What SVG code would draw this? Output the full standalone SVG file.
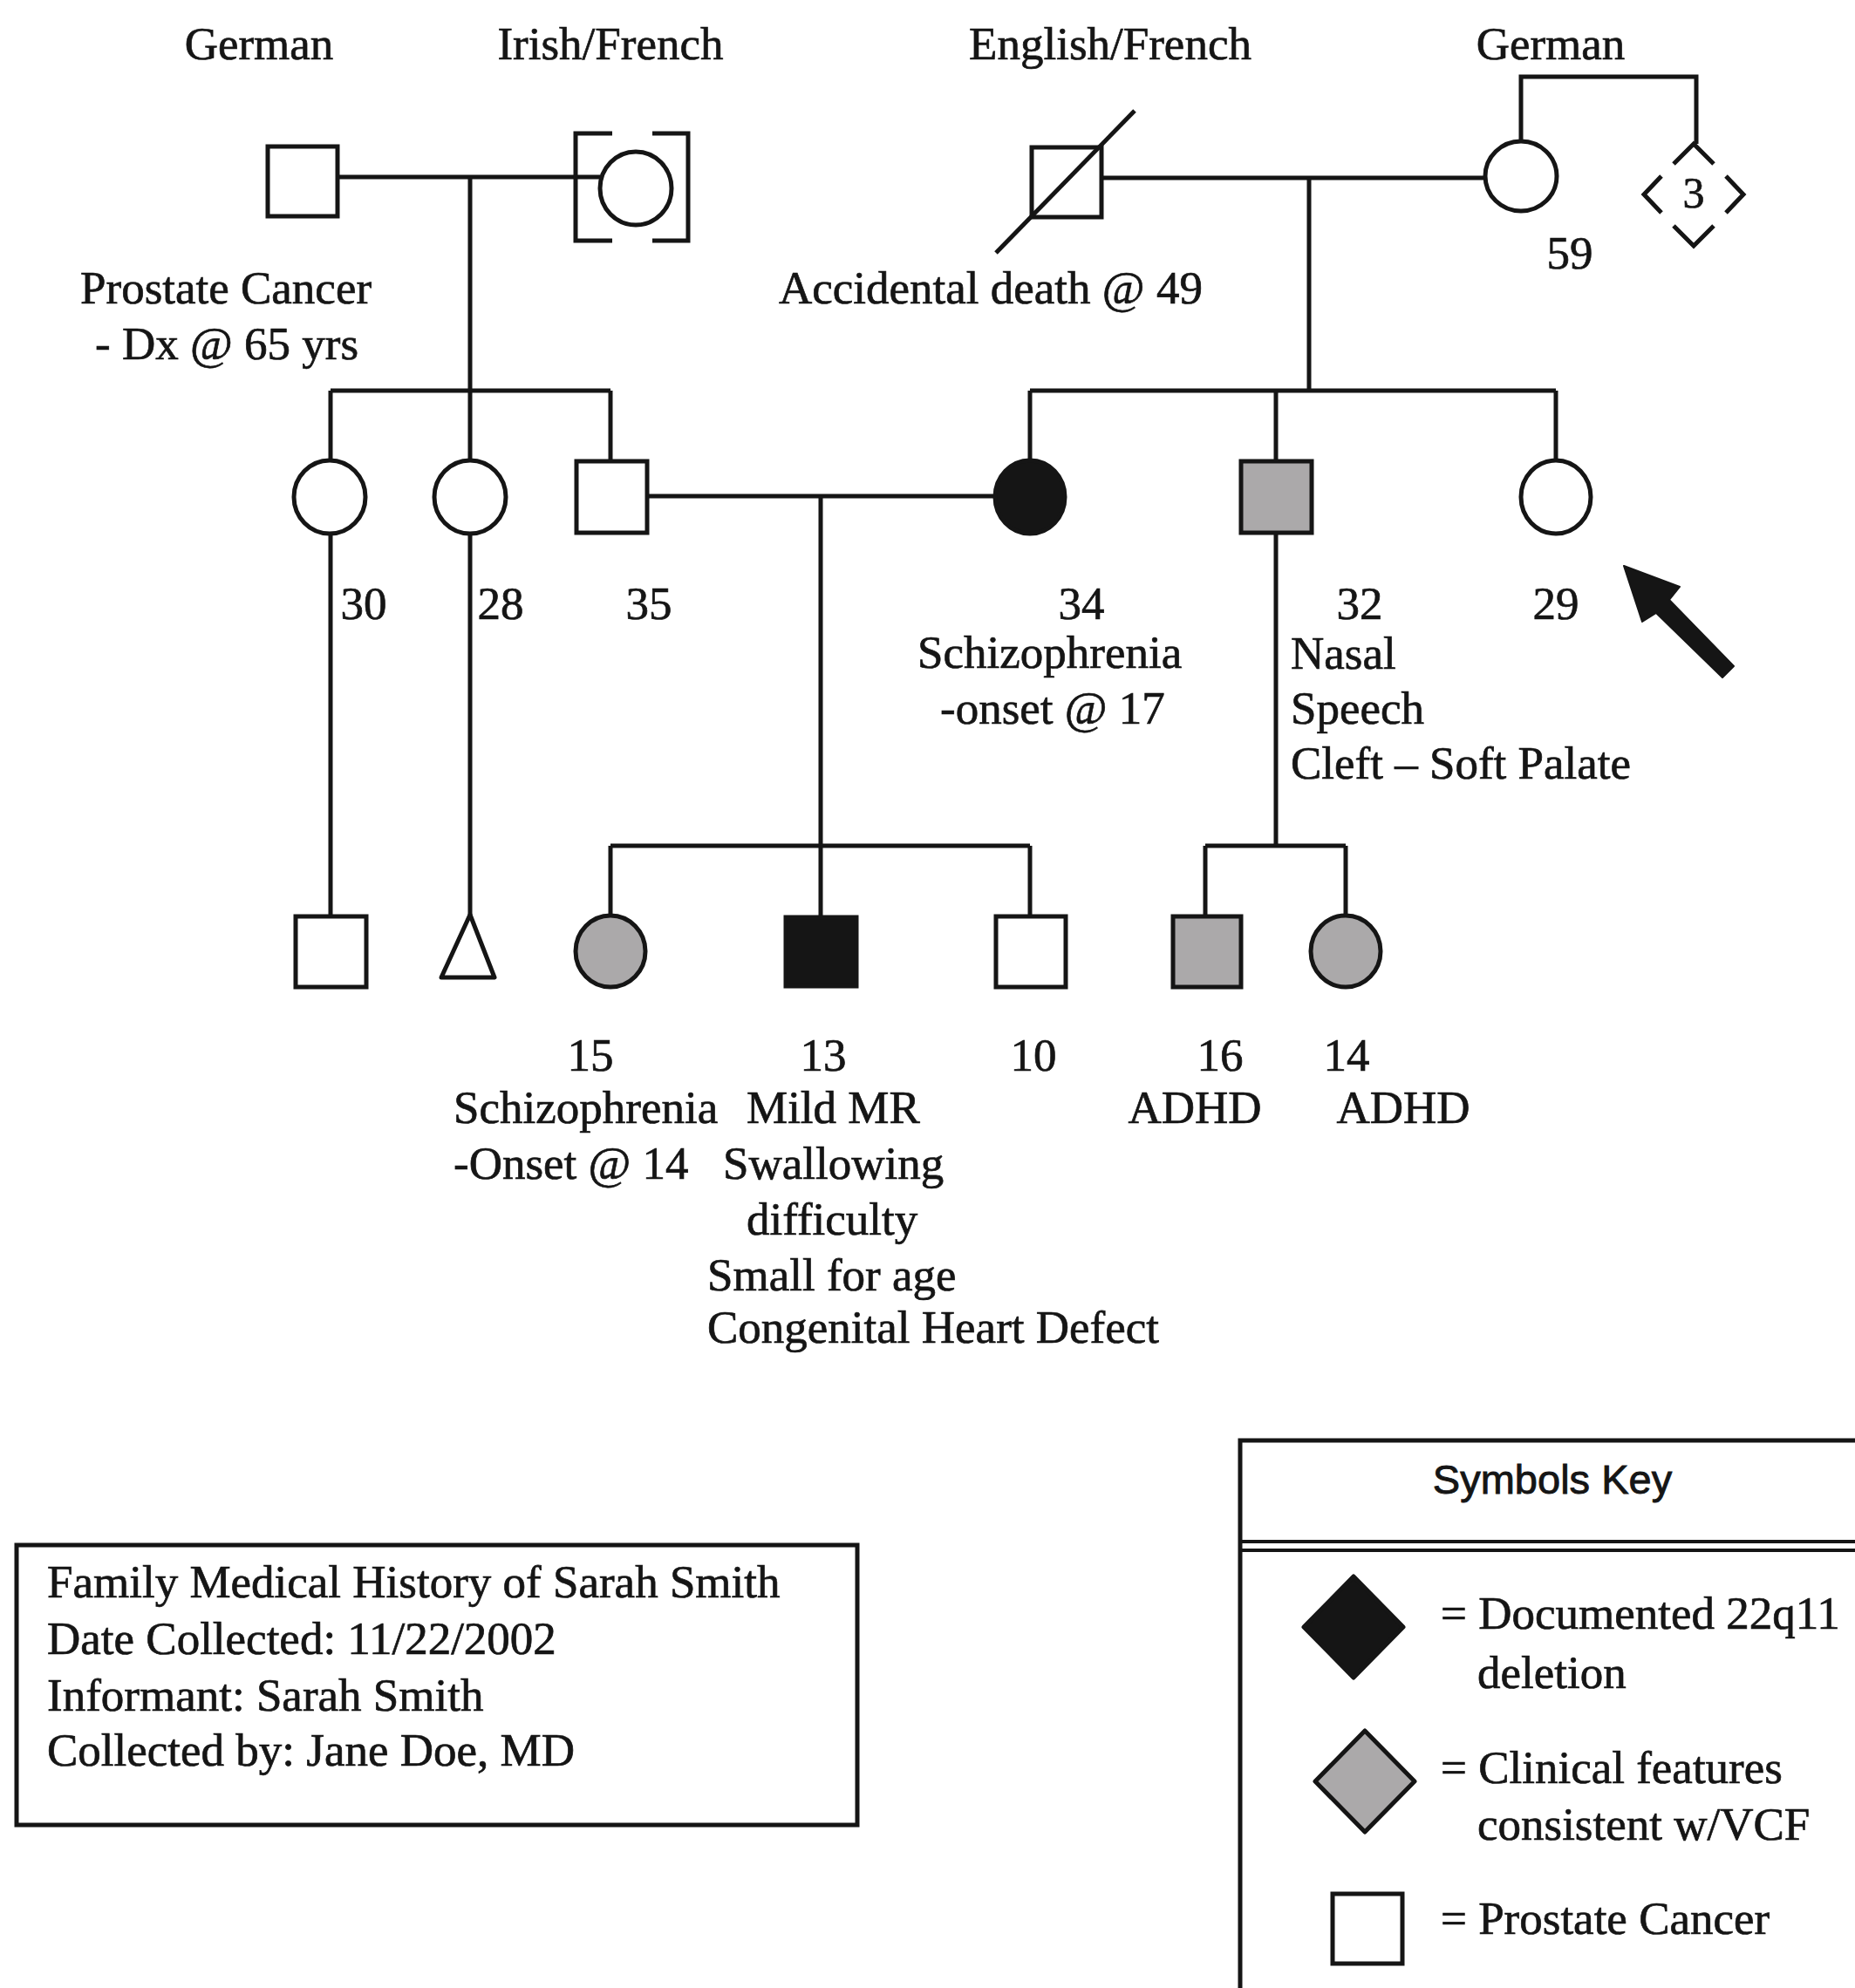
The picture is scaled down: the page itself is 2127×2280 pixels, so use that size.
<svg xmlns="http://www.w3.org/2000/svg" width="2127" height="2280" viewBox="0 0 2127 2280">
<style>
.t{font-family:"Liberation Serif","Times New Roman",serif;font-size:53px;fill:#151515;stroke:#151515;stroke-width:0.7}
.m{text-anchor:middle}
.s{fill:#fff;stroke:#151515;stroke-width:5}
.g{fill:#aba9aa;stroke:#151515;stroke-width:5}
.b{fill:#151515;stroke:#151515;stroke-width:5}
.ln{fill:none;stroke:#151515;stroke-width:5}
</style>
<rect width="2127" height="2280" fill="#fff"/>

<g id="connectors" class="ln">
  <line x1="388" y1="203" x2="688" y2="203"/>
  <line x1="539" y1="203" x2="539" y2="529"/>
  <line x1="379" y1="448" x2="700" y2="448"/>
  <line x1="379" y1="448" x2="379" y2="529"/>
  <line x1="700" y1="448" x2="700" y2="529"/>
  <line x1="1264" y1="204" x2="1703" y2="204"/>
  <line x1="1501" y1="204" x2="1501" y2="448"/>
  <line x1="1181" y1="448" x2="1784" y2="448"/>
  <line x1="1181" y1="448" x2="1181" y2="529"/>
  <line x1="1463" y1="448" x2="1463" y2="529"/>
  <line x1="1784" y1="448" x2="1784" y2="529"/>
  <polyline points="1744,162 1744,88 1945,88 1945,165"/>
  <line x1="379" y1="612" x2="379" y2="1051"/>
  <line x1="539" y1="612" x2="539" y2="1049"/>
  <line x1="742" y1="569" x2="1140" y2="569"/>
  <line x1="941" y1="569" x2="941" y2="1051"/>
  <line x1="700" y1="970" x2="1181" y2="970"/>
  <line x1="700" y1="970" x2="700" y2="1051"/>
  <line x1="1181" y1="970" x2="1181" y2="1051"/>
  <line x1="1463" y1="612" x2="1463" y2="970"/>
  <line x1="1382" y1="970" x2="1543" y2="970"/>
  <line x1="1382" y1="970" x2="1382" y2="1051"/>
  <line x1="1543" y1="970" x2="1543" y2="1051"/>
</g>

<g id="gpa-german">
  <rect class="s" x="307" y="168" width="80" height="80"/>
  <text class="t m" x="297" y="68">German</text>
  <text class="t" x="92" y="348">Prostate Cancer</text>
  <text class="t" x="109" y="412">- Dx @ 65 yrs</text>
</g>
<g id="gma-irish-french">
  <ellipse class="s" cx="729" cy="216" rx="41" ry="42"/>
  <path class="ln" d="M702,153 H660 V276 H702 M748,153 H789 V276 H748"/>
  <text class="t m" x="700" y="68">Irish/French</text>
</g>
<g id="gpa-english-french">
  <rect class="s" x="1183" y="169" width="80" height="80"/>
  <line class="ln" x1="1142" y1="290" x2="1301" y2="127"/>
  <text class="t m" x="1273" y="68">English/French</text>
  <text class="t" x="893" y="348">Accidental death @ 49</text>
</g>
<g id="gma-german">
  <ellipse class="s" cx="1744" cy="202" rx="41" ry="40"/>
  <text class="t m" x="1778" y="68">German</text>
  <text class="t m" x="1800" y="308">59</text>
</g>
<g id="gma-siblings">
  <path class="ln" d="M1919,188 L1942,165 L1965,188 M1905,202 L1885,223 L1905,244 M1979,202 L1999,223 L1979,244 M1919,259 L1942,282 L1965,259"/>
  <text class="t m" x="1942" y="238" style="font-size:50px">3</text>
</g>

<g id="aunt-30">
  <ellipse class="s" cx="378" cy="570" rx="41" ry="42"/>
  <text class="t m" x="417" y="710">30</text>
</g>
<g id="aunt-28">
  <ellipse class="s" cx="539" cy="570" rx="41" ry="42"/>
  <text class="t m" x="574" y="710">28</text>
</g>
<g id="father-35">
  <rect class="s" x="661" y="529" width="81" height="82"/>
  <text class="t m" x="744" y="710">35</text>
</g>
<g id="mother-34">
  <ellipse class="b" cx="1181" cy="570" rx="40" ry="42"/>
  <text class="t m" x="1240" y="710">34</text>
  <text class="t" x="1052" y="766">Schizophrenia</text>
  <text class="t" x="1078" y="830">-onset @ 17</text>
</g>
<g id="uncle-32">
  <rect class="g" x="1423" y="529" width="81" height="82"/>
  <text class="t m" x="1559" y="710">32</text>
  <text class="t" x="1480" y="767">Nasal</text>
  <text class="t" x="1480" y="830">Speech</text>
  <text class="t" x="1480" y="893">Cleft – Soft Palate</text>
</g>
<g id="proband-29">
  <ellipse class="s" cx="1784" cy="570" rx="40" ry="42"/>
  <text class="t m" x="1784" y="710">29</text>
  <polygon fill="#151515" stroke="#151515" stroke-width="2" stroke-linejoin="round" points="1862,649 1926,673 1914,688 1988,764 1975,777 1899,703 1883,713"/>
</g>

<g id="cousin-m">
  <rect class="s" x="339" y="1051" width="81" height="81"/>
</g>
<g id="cousin-pregnancy">
  <polygon class="s" points="539,1049 567,1121 506,1121" stroke-linejoin="round"/>
</g>
<g id="sister-15">
  <ellipse class="g" cx="700" cy="1091" rx="40" ry="41"/>
  <text class="t m" x="677" y="1228">15</text>
  <text class="t" x="520" y="1288">Schizophrenia</text>
  <text class="t" x="520" y="1352">-Onset @ 14</text>
</g>
<g id="brother-13">
  <rect class="b" x="901" y="1052" width="81" height="79"/>
  <text class="t m" x="944" y="1228">13</text>
  <text class="t" x="856" y="1288">Mild MR</text>
  <text class="t" x="829" y="1352">Swallowing</text>
  <text class="t" x="856" y="1416">difficulty</text>
  <text class="t" x="811" y="1480">Small for age</text>
  <text class="t" x="811" y="1540">Congenital Heart Defect</text>
</g>
<g id="brother-10">
  <rect class="s" x="1142" y="1051" width="80" height="81"/>
  <text class="t m" x="1185" y="1228">10</text>
</g>
<g id="cousin-16">
  <rect class="g" x="1345" y="1051" width="78" height="81"/>
  <text class="t m" x="1399" y="1228">16</text>
  <text class="t m" x="1370" y="1288">ADHD</text>
</g>
<g id="cousin-14">
  <ellipse class="g" cx="1543" cy="1091" rx="40" ry="41"/>
  <text class="t m" x="1544" y="1228">14</text>
  <text class="t m" x="1609" y="1288">ADHD</text>
</g>

<g id="info-box">
  <rect class="ln" x="19" y="1772" width="964" height="321"/>
  <text class="t" x="54" y="1832">Family Medical History of Sarah Smith</text>
  <text class="t" x="54" y="1897">Date Collected: 11/22/2002</text>
  <text class="t" x="54" y="1962">Informant: Sarah Smith</text>
  <text class="t" x="54" y="2025">Collected by: Jane Doe, MD</text>
</g>

<g id="symbols-key">
  <path class="ln" d="M2135,1652 H1422 V2290"/>
  <line x1="1422" y1="1768" x2="2135" y2="1768" stroke="#151515" stroke-width="4"/>
  <line x1="1422" y1="1778" x2="2135" y2="1778" stroke="#151515" stroke-width="4"/>
  <text x="1780" y="1713" text-anchor="middle" style="font-family:'Liberation Sans',Arial,sans-serif;font-size:47px;fill:#151515;stroke:#151515;stroke-width:0.9">Symbols Key</text>
  <polygon class="b" stroke-linejoin="round" points="1552,1808 1609,1866 1552,1924 1495,1866"/>
  <text class="t" x="1652" y="1868">= Documented 22q11</text>
  <text class="t" x="1694" y="1936">deletion</text>
  <polygon class="g" stroke-linejoin="round" points="1565,1985 1622,2043 1565,2101 1508,2043"/>
  <text class="t" x="1652" y="2045">= Clinical features</text>
  <text class="t" x="1694" y="2110">consistent w/VCF</text>
  <rect class="s" x="1528" y="2172" width="80" height="80"/>
  <text class="t" x="1652" y="2218">= Prostate Cancer</text>
</g>
</svg>
